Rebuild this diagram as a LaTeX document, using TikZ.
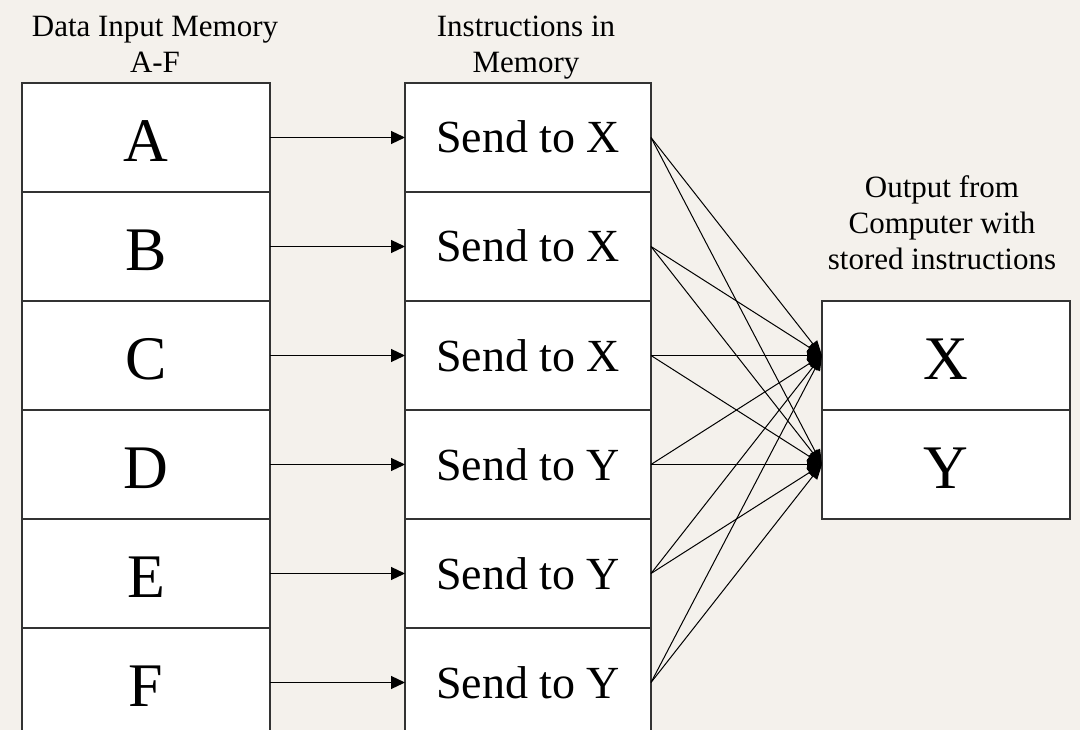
\documentclass[tikz,border=0pt]{standalone}
\usepackage{fontspec}
\setmainfont{Liberation Serif}
\usetikzlibrary{arrows.meta}
\definecolor{bg}{HTML}{F4F1EC}
\definecolor{edge}{HTML}{333333}
\begin{document}
\begin{tikzpicture}[x=1pt,y=-1pt,
  cell/.style={draw=edge,line width=1.2pt,fill=white,inner sep=0pt,outer sep=0pt,minimum width=248pt,minimum height=109pt},
  letterbox/.style={font=\fontsize{62}{62}\selectfont,text height=48.5pt,text depth=0pt},
  sendbox/.style={font=\fontsize{46}{46}\selectfont,text height=31pt,text depth=0pt,minimum width=246pt},
  head/.style={font=\fontsize{31}{36}\selectfont,align=center,anchor=base},
  link/.style={draw=black,line width=1.2pt,-{Triangle[length=14pt,width=13pt]}},
  fan/.style={draw=black,line width=1pt,-{Triangle[length=15pt,width=11pt]}}]
\useasboundingbox[fill=bg] (0,0) rectangle (1080,730);
\clip (0,0) rectangle (1080,730);
\foreach \l/\t [count=\i] in {A/X,B/X,C/X,D/Y,E/Y,F/Y}{
  \node[cell,letterbox] (L\i) at (146,{137.5+109*(\i-1)}) {\l};
  \node[cell,sendbox] (M\i) at (528,{137.5+109*(\i-1)}) {Send to \t};
}
\node[cell,letterbox] (X) at (946,355.5) {X};
\node[cell,letterbox] (Y) at (946,464.5) {Y};
\foreach \i in {1,...,6}{
  \draw[link] (L\i.east) -- (M\i.west);
  \draw[fan] (M\i.east) -- (X.west);
  \draw[fan] (M\i.east) -- (Y.west);
}
\node[head] (h1) at (155,72.5) {Data Input Memory\\A-F};
\node[head] (h2) at (526,72.5) {Instructions in\\Memory};
\node[head] (h3) at (942,270) {Output from\\Computer with\\stored instructions};
\end{tikzpicture}
\end{document}
